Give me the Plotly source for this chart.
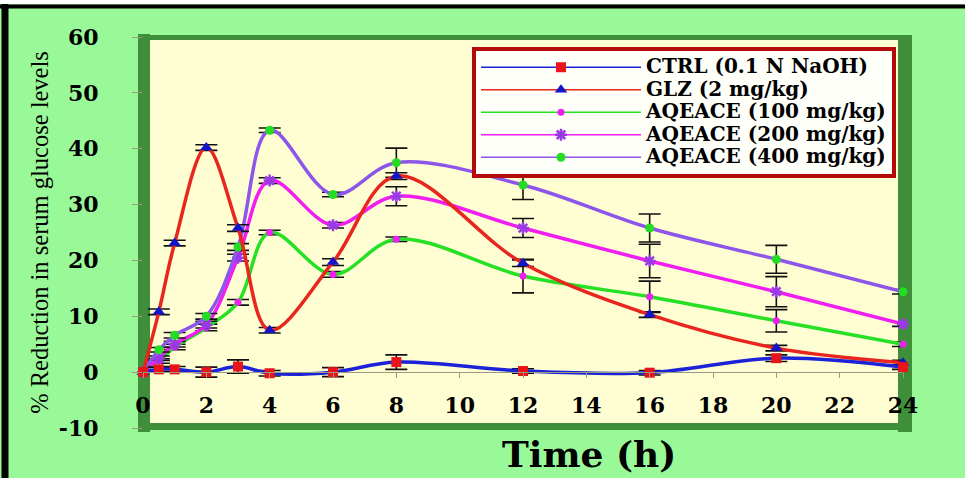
import plotly.graph_objects as go

# ---- data ----
time_h = [0, 0.5, 1, 2, 3, 4, 6, 8, 12, 16, 20, 24]
x_ticks = [0, 2, 4, 6, 8, 10, 12, 14, 16, 18, 20, 22, 24]
y_ticks = [-10, 0, 10, 20, 30, 40, 50, 60]

ctrl = [0, 0.5, 0.5, 0, 1.0, -0.2, 0, 1.8, 0.2, -0.1, 2.5, 0.9]
glz = [0, 10.8, 23.1, 40.2, 25.8, 7.5, 19.7, 35.1, 19.5, 10.3, 4.3, 1.7]
aq100 = [0, 2.0, 4.5, 8.0, 12.5, 25.0, 17.5, 23.8, 17.2, 13.5, 9.2, 5.0]
aq200 = [0, 2.5, 5.0, 8.5, 20.5, 34.3, 26.3, 31.5, 25.8, 19.9, 14.4, 8.6]
aq400 = [0, 4.0, 6.6, 10.0, 22.4, 43.3, 31.8, 37.5, 33.5, 25.8, 20.2, 14.4]

ctrl_err = [0, 0.4, 0.5, 0.9, 1.2, 0.5, 0.8, 1.3, 0.4, 0.4, 0.6, 0.4]
glz_err = [0, 0.5, 0.5, 0.5, 0.6, 0.5, 0.6, 0.6, 0.6, 0.5, 0.5, 0.4]
aq100_err = [0, 0.4, 0.5, 0.6, 0.5, 0.4, 0.5, 0.4, 3.0, 2.8, 2.0, 0.4]
aq200_err = [0, 0.4, 0.5, 0.6, 0.6, 0.5, 0.5, 1.7, 1.7, 3.0, 2.7, 0.4]
aq400_err = [0, 0.4, 0.5, 0.5, 0.6, 0.4, 0.4, 2.6, 2.6, 2.5, 2.5, 0.4]

names = ["CTRL (0.1 N NaOH)", "GLZ (2 mg/kg)", "AQEACE (100 mg/kg)",
         "AQEACE (200 mg/kg)", "AQEACE (400 mg/kg)"]

# ---- styles ----
series = [
    (ctrl, ctrl_err, "#1c22d8", dict(symbol="square", size=10, color="#e8141a")),
    (glz, glz_err, "#e8261e", dict(symbol="triangle-up", size=11, color="#1414c8")),
    (aq100, aq100_err, "#26e026", dict(symbol="circle", size=7, color="#f01ef0")),
    (aq200, aq200_err, "#f01ef0", dict(symbol="asterisk-open", size=10, color="#9a3ae6",
                                       line=dict(width=2.5, color="#9a3ae6"))),
    (aq400, aq400_err, "#8c56ea", dict(symbol="circle", size=9, color="#22dd22")),
]
order = [2, 3, 4, 1, 0]

fig = go.Figure()
for i in order:
    yv, ev, lc, mk = series[i]
    fig.add_trace(go.Scatter(
        x=time_h, y=yv, mode="lines+markers", name=names[i], showlegend=False,
        line=dict(color=lc, width=3.5, shape="spline", smoothing=1.0),
        marker=mk, cliponaxis=False,
        error_y=dict(type="data", array=ev, visible=True, color="#111111",
                     thickness=1.6, width=11),
    ))
# legend samples (thin lines as in the original legend)
for i in range(5):
    yv, ev, lc, mk = series[i]
    fig.add_trace(go.Scatter(
        x=[None], y=[None], mode="lines+markers",
        name="<span style='font-size:20px'>" + names[i] + "</span>",
        line=dict(color=lc, width=1.5), marker=mk, showlegend=True,
    ))

W, H = 965, 478
L, R, T, B = 143, 62, 37, 50
pw, ph = W - L - R, H - T - B


def px(xp):
    return (xp - L) / pw


def py(yp):
    return (H - B - yp) / ph


green = "#3f8f3a"
shapes = [
    dict(type="line", xref="paper", yref="paper", x0=px(144), x1=px(144), y0=py(432), y1=py(34),
         line=dict(color=green, width=12), layer="below"),
    dict(type="line", xref="paper", yref="paper", x0=px(138), x1=px(912), y0=py(37.5), y1=py(37.5),
         line=dict(color=green, width=5), layer="below"),
    dict(type="line", xref="paper", yref="paper", x0=px(905), x1=px(905), y0=py(432), y1=py(35),
         line=dict(color=green, width=14), layer="below"),
    dict(type="line", xref="paper", yref="paper", x0=px(138), x1=px(912), y0=py(426.5), y1=py(426.5),
         line=dict(color=green, width=7), layer="below"),
    # outer black frame (top and left)
    dict(type="rect", xref="paper", yref="paper", x0=px(0), x1=px(W), y0=py(0), y1=py(4),
         line=dict(width=0), fillcolor="white", layer="below"),
    dict(type="line", xref="paper", yref="paper", x0=px(0), x1=px(W), y0=py(6.5), y1=py(6.5),
         line=dict(color="black", width=4), layer="below"),
    dict(type="line", xref="paper", yref="paper", x0=px(5), x1=px(5), y0=py(4), y1=py(H),
         line=dict(color="black", width=7), layer="below"),
]

tickfont = dict(family="DejaVu Serif", size=22, color="black", weight="bold")

fig.update_layout(
    width=W, height=H,
    margin=dict(l=L, r=R, t=T, b=B, autoexpand=False),
    paper_bgcolor="#99f999",
    plot_bgcolor="#fffed2",
    shapes=shapes,
    showlegend=True,
    legend=dict(
        x=px(684), y=py(47), xanchor="center", yanchor="top",
        bgcolor="#fffffa", bordercolor="#b40a0a", borderwidth=4,
        font=dict(family="DejaVu Serif", size=15, color="black", weight="bold"),
        itemwidth=160, tracegroupgap=0,
    ),
    xaxis=dict(
        range=[0, 24], tickvals=x_ticks, ticktext=[str(v) for v in x_ticks],
        anchor="free", position=py(372),
        showline=True, linecolor="#9a9a80", linewidth=1,
        ticks="outside", ticklen=5, tickcolor="#9a9a80",
        tickfont=tickfont, ticklabelstandoff=9,
        showgrid=False, zeroline=False,
    ),
    yaxis=dict(
        range=[-10, 60], tickvals=y_ticks, ticktext=[str(v) for v in y_ticks],
        showline=False, ticks="outside", ticklen=10, tickcolor="#9a9a80",
        tickfont=tickfont, ticklabelstandoff=29,
        showgrid=False, zeroline=False,
        title=dict(text="% Reduction in serum glucose levels",
                   font=dict(family="Liberation Serif", size=24.5, color="black"),
                   standoff=3),
    ),
    annotations=[dict(
        text="Time (h)", xref="paper", yref="paper", x=px(589), y=py(477),
        xanchor="center", yanchor="bottom", showarrow=False,
        font=dict(family="DejaVu Serif", size=36, color="black", weight="bold"),
    )],
)

fig.write_html("out.html", config={"displayModeBar": False},
               post_script="document.body.style.margin='0px';")
